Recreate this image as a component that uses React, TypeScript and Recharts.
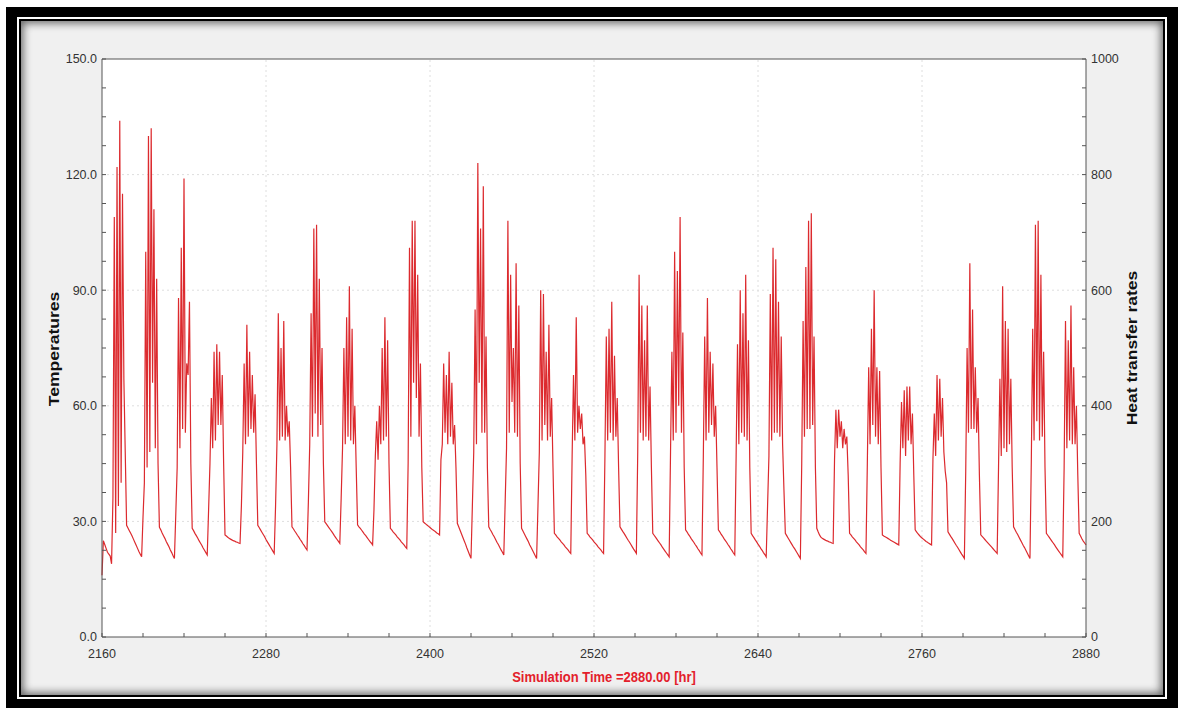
import { LineChart, Line, XAxis, YAxis, CartesianGrid, ReferenceLine } from "recharts"

const START_HOUR = 2160

// hourly temperatures, one row per simulated day
const temps2160 = [
  16, 25, 24, 23, 22, 21.5, 21, 19, 36, 109, 27, 122, 34, 134, 40, 115, 67, 48, 29, 28.3, 27.6, 26.9, 26.2, 25.4,
  24.6, 23.8, 23, 22.2, 21.5, 20.8, 31, 40, 100, 44, 130, 48, 132, 66, 111, 49, 93, 45, 28.5, 27.8, 27, 26.3, 25.6, 24.8,
  24.1, 23.4, 22.6, 21.9, 21.1, 20.4, 32, 44, 88, 49, 101, 54, 119, 53, 71, 68, 87, 45, 28.2, 27.6, 26.9, 26.3, 25.7, 25,
  24.4, 23.8, 23.1, 22.5, 21.9, 21.3, 33, 45, 62, 49, 74, 51, 76, 55, 74, 55, 68, 45, 26.5, 26.2, 25.9, 25.6, 25.4, 25.2,
  25, 24.9, 24.7, 24.6, 24.4, 24.3, 34, 48, 71, 50, 81, 52, 74, 54, 68, 53, 63, 45, 29, 28.4, 27.8, 27.2, 26.6, 26,
  25.3, 24.7, 24.1, 23.5, 22.9, 22.3, 21.7, 34, 50, 84, 51, 75, 52, 82, 51, 60, 52, 56, 44, 28.6, 28.1, 27.5, 27, 26.4,
]

const temps2304 = [
  25.9, 25.3, 24.8, 24.2, 23.7, 23.1, 22.6, 35, 50, 84, 52, 106, 58, 107, 52, 93, 55, 75, 45, 29.9, 29.4, 28.9, 28.4, 27.9,
  27.4, 26.9, 26.3, 25.8, 25.3, 24.8, 24.3, 36, 49, 75, 50, 83, 52, 91, 51, 80, 50, 60, 44, 29.1, 28.6, 28.2, 27.7, 27.2,
  26.7, 26.3, 25.8, 25.3, 24.8, 24.4, 23.9, 33, 47, 56, 46, 60, 50, 75, 51, 83, 52, 77, 45, 28.2, 27.8, 27.3, 26.9, 26.5,
  26, 25.6, 25.2, 24.7, 24.3, 23.9, 23.4, 23, 45, 101, 52, 108, 66, 108, 62, 94, 52, 71, 44, 29.9, 29.6, 29.3, 29, 28.7,
  28.4, 28.1, 27.8, 27.6, 27.3, 27, 26.8, 26.5, 46, 50, 71, 53, 68, 50, 74, 52, 66, 50, 55, 44, 29.5, 28.6, 27.7, 26.8,
  25.9, 25, 24.1, 23.1, 22.2, 21.3, 20.4, 34, 48, 85, 50, 123, 66, 106, 53, 117, 53, 78, 44, 28.6, 27.9, 27.3, 26.6, 26,
]

const temps2448 = [
  25.3, 24.6, 24, 23.3, 22.6, 22, 21.3, 35, 49, 108, 53, 94, 61, 75, 53, 97, 52, 86, 45, 28.2, 27.5, 26.8, 26.1, 25.4,
  24.7, 23.9, 23.2, 22.5, 21.8, 21.1, 20.4, 34, 48, 90, 51, 89, 55, 74, 51, 81, 52, 62, 44, 26.9, 26.5, 26, 25.6, 25.2,
  24.7, 24.3, 23.9, 23.4, 23, 22.6, 22.1, 21.7, 47, 68, 51, 83, 53, 60, 54, 58, 50, 52, 42, 26.9, 26.5, 26, 25.6, 25.2,
  24.7, 24.3, 23.9, 23.4, 23, 22.6, 22.1, 21.7, 47, 78, 51, 80, 53, 87, 51, 73, 52, 62, 44, 28.6, 28, 27.4, 26.9, 26.3,
  25.7, 25.1, 24.6, 24, 23.4, 22.8, 22.3, 21.7, 48, 94, 53, 86, 51, 77, 52, 86, 51, 65, 44, 26.9, 26.4, 25.9, 25.4, 24.9,
  24.4, 23.9, 23.3, 22.8, 22.3, 21.8, 21.3, 20.8, 48, 74, 51, 100, 53, 95, 60, 109, 53, 79, 44, 27.8, 27.3, 26.7, 26.2, 25.6,
]

const temps2592 = [
  25.1, 24.6, 24, 23.5, 22.9, 22.4, 21.8, 21.3, 47, 78, 51, 88, 53, 74, 55, 71, 52, 60, 44, 27.8, 27.3, 26.7, 26.2, 25.6,
  25.1, 24.6, 24, 23.5, 22.9, 22.4, 21.8, 21.3, 47, 76, 50, 90, 53, 84, 52, 94, 51, 77, 44, 26.9, 26.3, 25.8, 25.2, 24.7,
  24.1, 23.6, 23, 22.5, 21.9, 21.4, 20.8, 34, 47, 89, 51, 101, 53, 98, 53, 87, 52, 78, 50, 38, 26.9, 26.3, 25.7, 25.1,
  24.5, 23.9, 23.3, 22.8, 22.2, 21.6, 21, 20.4, 45, 82, 52, 96, 54, 108, 54, 110, 55, 78, 44, 28.2, 27.3, 26.5, 25.9, 25.6,
  25.4, 25.2, 25, 24.9, 24.7, 24.6, 24.4, 24.3, 46, 59, 49, 59, 52, 56, 49, 54, 50, 52, 42, 26.9, 26.5, 26, 25.6, 25.2,
  24.7, 24.3, 23.9, 23.4, 23, 22.6, 22.1, 21.7, 45, 70, 50, 80, 55, 90, 52, 70, 50, 69, 44, 26.5, 26.2, 26, 25.8, 25.6,
]

const temps2736 = [
  25.4, 25.1, 24.9, 24.7, 24.5, 24.3, 24.1, 23.9, 45, 61, 49, 64, 47, 65, 51, 65, 50, 58, 42, 27.8, 27.3, 26.8, 26.4, 26,
  25.7, 25.4, 25.1, 24.8, 24.6, 24.3, 24.1, 23.9, 46, 58, 47, 68, 51, 67, 52, 62, 48, 43, 40, 27.3, 26.7, 26.1, 25.6, 25,
  24.4, 23.8, 23.3, 22.7, 22.1, 21.5, 21, 20.4, 43, 75, 53, 97, 54, 85, 54, 70, 53, 62, 42, 26.5, 26.1, 25.7, 25.3, 24.9,
  24.5, 24.1, 23.7, 23.3, 22.9, 22.5, 22.1, 21.7, 44, 67, 47, 91, 49, 82, 48, 80, 50, 67, 44, 28.6, 27.9, 27.2, 26.6, 25.9,
  25.2, 24.5, 23.8, 23.2, 22.5, 21.8, 21.1, 20.4, 46, 80, 51, 107, 56, 108, 51, 94, 52, 74, 44, 26.9, 26.4, 25.9, 25.4, 24.9,
  24.4, 23.9, 23.3, 22.8, 22.3, 21.8, 21.3, 20.8, 44, 82, 49, 77, 51, 86, 50, 70, 50, 60, 42, 26.9, 26.2, 25.5, 24.9, 24.4,
  23.9,
]

const hourTicks = [2160, 2190, 2220, 2250, 2280, 2310, 2340, 2370, 2400, 2430, 2460, 2490, 2520, 2550, 2580, 2610, 2640, 2670, 2700, 2730, 2760, 2790, 2820, 2850, 2880]
const tempTicks = [0, 7.5, 15, 22.5, 30, 37.5, 45, 52.5, 60, 67.5, 75, 82.5, 90, 97.5, 105, 112.5, 120, 127.5, 135, 142.5, 150]
const heatTicks = [0, 50, 100, 150, 200, 250, 300, 350, 400, 450, 500, 550, 600, 650, 700, 750, 800, 850, 900, 950, 1000]
const hourGrid = [2280, 2400, 2520, 2640, 2760]
const tempGrid = [30, 60, 90, 120]

const chartData = [...temps2160, ...temps2304, ...temps2448, ...temps2592, ...temps2736].map((temp, i) => ({
  hour: START_HOUR + i,
  temp,
}))

const FONT = "'Liberation Sans', Arial, sans-serif"
const tickStyle = { fill: "#333", fontSize: 12.5, fontFamily: FONT }
const axisColor = "#555"

export default function App() {
  return (
    <div style={{ position: "absolute", left: 0, top: 0, width: 1184, height: 708, background: "#fff", overflow: "hidden" }}>
      {/* picture frame */}
      <div style={{ position: "absolute", left: 6, top: 7, width: 1172, height: 701, background: "#000" }}>
        <div style={{ position: "absolute", left: 11, top: 10, right: 11, bottom: 9, background: "#fff" }}>
          <div style={{ position: "absolute", inset: 2, background: "#000" }}>
            <div
              style={{
                position: "absolute",
                inset: 2,
                background: "#f0f0f0",
                boxShadow: "inset 0 0 8px 2px rgba(0,0,0,0.6)",
              }}
            />
          </div>
        </div>
      </div>

      <div style={{ position: "absolute", left: 0, top: 0 }}>
        <LineChart width={1184} height={708} data={chartData} margin={{ top: 59, right: 38, bottom: 31, left: 42 }}>
          <CartesianGrid fill="#fff" horizontal={false} vertical={false} yAxisId="left" />
          <XAxis
            dataKey="hour"
            type="number"
            domain={[2160, 2880]}
            ticks={hourTicks}
            interval={0}
            height={40}
            tickSize={-4}
            tickMargin={16}
            tick={tickStyle}
            tickFormatter={(v: number) => (v % 120 === 0 ? String(v) : "")}
            axisLine={{ stroke: axisColor }}
            tickLine={{ stroke: axisColor }}
          />
          <YAxis
            yAxisId="left"
            orientation="left"
            type="number"
            domain={[0, 150]}
            allowDataOverflow
            ticks={tempTicks}
            interval={0}
            width={60}
            tickSize={-4}
            tickMargin={9}
            tick={tickStyle}
            tickFormatter={(v: number) => (v % 30 === 0 ? v.toFixed(1) : "")}
            axisLine={{ stroke: axisColor }}
            tickLine={{ stroke: axisColor }}
          />
          <YAxis
            yAxisId="right"
            orientation="right"
            type="number"
            domain={[0, 1000]}
            allowDataOverflow
            ticks={heatTicks}
            interval={0}
            width={60}
            tickSize={-4}
            tickMargin={9}
            tick={tickStyle}
            tickFormatter={(v: number) => (v % 200 === 0 ? String(v) : "")}
            axisLine={{ stroke: axisColor }}
            tickLine={{ stroke: axisColor }}
          />
          {hourGrid.map((h) => (
            <ReferenceLine key={"gx" + h} x={h} yAxisId="left" stroke="#dedede" strokeDasharray="2 3" />
          ))}
          {tempGrid.map((t) => (
            <ReferenceLine key={"gy" + t} y={t} yAxisId="left" stroke="#dedede" strokeDasharray="2 3" />
          ))}
          <ReferenceLine y={150} yAxisId="left" stroke={axisColor} />
          <Line
            yAxisId="left"
            type="linear"
            dataKey="temp"
            stroke="#dc2a2e"
            strokeWidth={1.2}
            dot={false}
            isAnimationActive={false}
          />
        </LineChart>
      </div>

      <div
        style={{
          position: "absolute",
          left: 54,
          top: 349,
          transform: "translate(-50%, -50%) rotate(-90deg) scaleX(1.25)",
          fontFamily: FONT,
          fontWeight: "bold",
          fontSize: 14,
          color: "#111",
          whiteSpace: "nowrap",
        }}
      >
        Temperatures
      </div>
      <div
        style={{
          position: "absolute",
          left: 1132,
          top: 348,
          transform: "translate(-50%, -50%) rotate(-90deg) scaleX(1.25)",
          fontFamily: FONT,
          fontWeight: "bold",
          fontSize: 14,
          color: "#111",
          whiteSpace: "nowrap",
        }}
      >
        Heat transfer rates
      </div>
      <div
        style={{
          position: "absolute",
          left: 604,
          top: 677,
          transform: "translate(-50%, -50%) scaleY(1.15)",
          fontFamily: FONT,
          fontWeight: "bold",
          fontSize: 13,
          color: "#e3202b",
          whiteSpace: "nowrap",
        }}
      >
        Simulation Time =2880.00 [hr]
      </div>
    </div>
  )
}
